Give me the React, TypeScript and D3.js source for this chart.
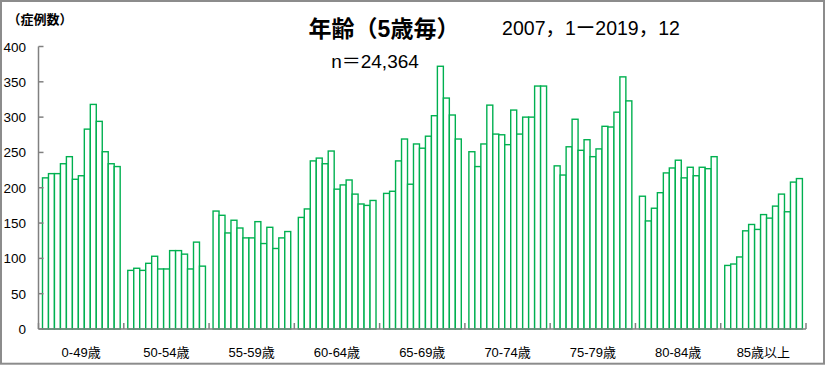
import React from "react";
import * as d3 from "d3";

const groups = ["0-49歳", "50-54歳", "55-59歳", "60-64歳", "65-69歳", "70-74歳", "75-79歳", "80-84歳", "85歳以上"];
const years = ["2007", "2008", "2009", "2010", "2011", "2012", "2013", "2014", "2015", "2016", "2017", "2018", "2019"];

const g0_49 = [214, 220, 220, 234, 244, 212, 217, 283, 318, 294, 251, 234, 230];
const g50_54 = [83, 86, 83, 93, 103, 85, 85, 111, 111, 106, 85, 123, 89];
const g55_59 = [167, 161, 136, 154, 143, 129, 129, 152, 121, 144, 114, 129, 138];
const g60_64 = [158, 170, 238, 242, 234, 252, 198, 204, 211, 191, 177, 175, 182];
const g65_69 = [192, 195, 238, 269, 205, 262, 256, 273, 302, 372, 327, 303, 269];
const g70_74 = [251, 230, 262, 317, 276, 275, 261, 310, 276, 300, 300, 344, 344];
const g75_79 = [231, 218, 258, 297, 253, 268, 244, 255, 287, 286, 307, 357, 323];
const g80_84 = [188, 153, 171, 193, 221, 228, 239, 214, 229, 217, 229, 227, 244];
const g85 = [90, 92, 102, 139, 148, 141, 162, 157, 174, 191, 166, 208, 213];

const seriesByGroup = [g0_49, g50_54, g55_59, g60_64, g65_69, g70_74, g75_79, g80_84, g85];
const yTicks = [0, 50, 100, 150, 200, 250, 300, 350, 400];

const W = 832;
const H = 369;
const X0 = 38.5;
const X1 = 806;
const Y0 = 329;
const Y1 = 46.5;

export default function App() {
  const x = d3.scaleBand<string>().domain(groups).range([X0, X1]).paddingInner(0).paddingOuter(0);
  const bw = x.bandwidth();
  const xi = d3.scaleBand<string>().domain(years).range([4, bw - 3.6]).padding(0);
  const y = d3.scaleLinear().domain([0, 400]).range([Y0, Y1]);
  const font = "'Liberation Sans', Arial, 'Noto Sans CJK JP', sans-serif";
  const cjk = "'Liberation Sans', 'Noto Sans CJK JP', sans-serif";
  const boundaries = groups.map((g) => x(g) as number).concat([X1]);

  return (
    <svg width={W} height={H} style={{ position: "absolute", left: 0, top: 0 }} xmlns="http://www.w3.org/2000/svg">
      <rect x={0} y={0} width={W} height={H} fill="#ffffff" />
      <rect x={1} y={1} width={823} height={362.7} fill="none" stroke="#8c8c8c" strokeWidth={2} />

      {/* bars */}
      {groups.map((g, gi) =>
        seriesByGroup[gi].map((v, i) => {
          const bx = (x(g) as number) + (xi(years[i]) as number);
          const top = y(v);
          return (
            <rect
              key={g + i}
              x={bx}
              y={top}
              width={xi.bandwidth()}
              height={Y0 - top}
              fill="#ffffff"
              stroke="#00b050"
              strokeWidth={1.4}
            />
          );
        })
      )}

      {/* y axis */}
      <line x1={X0} x2={X0} y1={Y1} y2={Y0} stroke="#808080" strokeWidth={1.5} />
      {yTicks.map((t) => (
        <g key={t}>
          <line x1={X0} x2={X0 + 5} y1={y(t)} y2={y(t)} stroke="#808080" strokeWidth={1.5} />
          <text x={26} y={y(t) + 5} textAnchor="end" fontFamily={font} fontSize={13.5} fill="#000">
            {t}
          </text>
        </g>
      ))}

      {/* x axis */}
      <line x1={X0} x2={X1} y1={Y0} y2={Y0} stroke="#808080" strokeWidth={1.5} />
      {boundaries.map((b, i) => (
        <line key={i} x1={b} x2={b} y1={Y0} y2={Y0 - 6} stroke="#808080" strokeWidth={1.5} />
      ))}
      {groups.map((g) => (
        <text key={g} x={(x(g) as number) + bw / 2} y={357} textAnchor="middle" fontFamily={cjk} fontSize={13} fill="#000">
          {g}
        </text>
      ))}

      {/* titles */}
      <text x={40} y={24} textAnchor="middle" fontFamily={cjk} fontSize={13} fontWeight="bold" fill="#000">
        （症例数）
      </text>
      <text x={384} y={37} textAnchor="middle" fontFamily={cjk} fontSize={23} fontWeight="bold" fill="#000">
        年齢（5歳毎）
      </text>
      <text x={375} y={68} textAnchor="middle" fontFamily={cjk} fontSize={19} fill="#000">
        n＝24,364
      </text>
      <text x={591} y={35} textAnchor="middle" fontFamily={cjk} fontSize={19.5} fill="#000">
        2007，1ー2019，12
      </text>
    </svg>
  );
}
